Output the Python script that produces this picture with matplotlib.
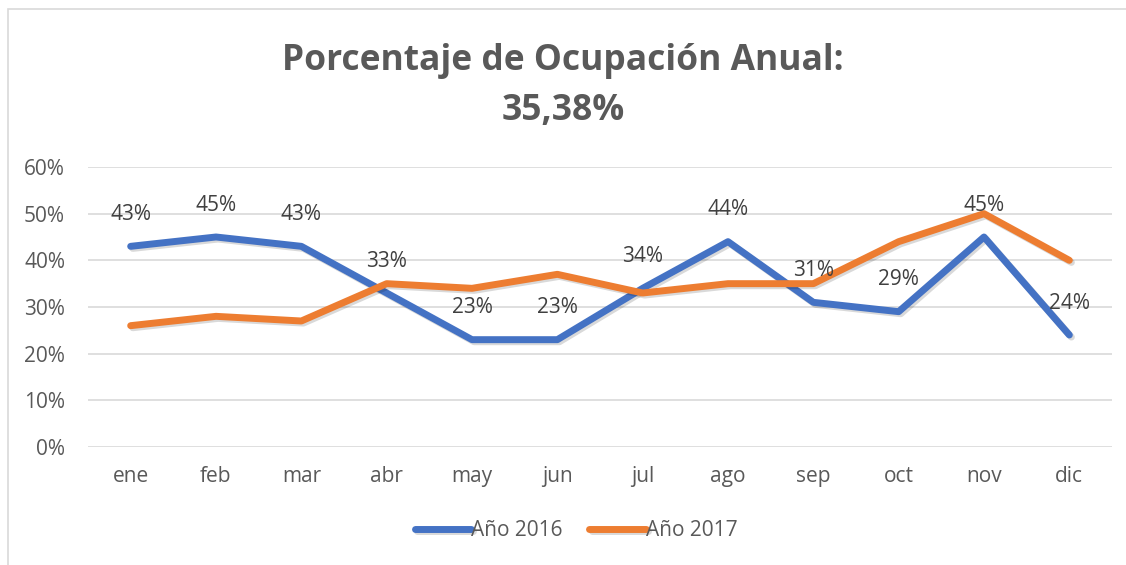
import matplotlib.pyplot as plt
import matplotlib.patheffects as pe
from matplotlib.ticker import FuncFormatter
from matplotlib.patches import Rectangle

plt.rcParams['font.family'] = ['Open Sans', 'DejaVu Sans']

months = ["ene", "feb", "mar", "abr", "may", "jun", "jul", "ago", "sep", "oct", "nov", "dic"]
y2016 = [0.43, 0.45, 0.43, 0.33, 0.23, 0.23, 0.34, 0.44, 0.31, 0.29, 0.45, 0.24]
y2017 = [0.26, 0.28, 0.27, 0.35, 0.34, 0.37, 0.33, 0.35, 0.35, 0.44, 0.50, 0.40]
title = "Porcentaje de Ocupación Anual:\n35,38%"

gray = "#595959"
blue = "#4472C4"
orange = "#ED7D31"

fig = plt.figure(figsize=(11.26, 5.65), dpi=100)
fig.patches.append(Rectangle((8 / 1126, -0.1), 1.2, 1 - 9 / 565 + 0.1, transform=fig.transFigure,
                             fill=False, edgecolor="#d9d9d9", linewidth=1.2))

ax = fig.add_axes([88 / 1126, 1 - 447 / 565, (1112 - 88) / 1126, (447 - 167) / 565])
x = range(len(months))
shadow = [pe.SimpleLineShadow(offset=(1.5, -1.5), alpha=0.15, shadow_color="black"), pe.Normal()]
ax.plot(x, y2016, color=blue, lw=5, solid_capstyle="round", solid_joinstyle="round",
        label="Año 2016", path_effects=shadow, zorder=3)
ax.plot(x, y2017, color=orange, lw=5, solid_capstyle="round", solid_joinstyle="round",
        label="Año 2017", path_effects=shadow, zorder=3)

for i, v in enumerate(y2016):
    ax.annotate(f"{round(v * 100)}%", (i, v), xytext=(0, 23), textcoords="offset points",
                ha="center", va="center", fontsize=15, color="#404040", zorder=4)

ax.set_xlim(-0.5, len(months) - 0.5)
ax.set_ylim(0, 0.6)
ax.set_yticks([0, 0.1, 0.2, 0.3, 0.4, 0.5, 0.6])
ax.yaxis.set_major_formatter(FuncFormatter(lambda v, p: f"{round(v * 100)}%"))
ax.set_xticks(list(x))
ax.set_xticklabels(months)
ax.tick_params(length=0, labelsize=15, labelcolor=gray)
ax.tick_params(axis="x", pad=14)
ax.tick_params(axis="y", pad=16.5)
ax.grid(axis="y", color="#d9d9d9", lw=1.2)
ax.set_axisbelow(True)
for s in ax.spines.values():
    s.set_visible(False)

fig.text(0.5, 1 - 86 / 565, title, ha="center", va="center", fontsize=25.5, fontweight="bold",
         color=gray, linespacing=1.5)

leg = fig.legend(loc="center", bbox_to_anchor=(576 / 1126, 1 - 531 / 565), ncol=2, frameon=False,
                 fontsize=15, handlelength=2.7, handletextpad=0.0, columnspacing=1.3)
for t in leg.get_texts():
    t.set_color(gray)

fig.savefig("out.png", dpi=100)
